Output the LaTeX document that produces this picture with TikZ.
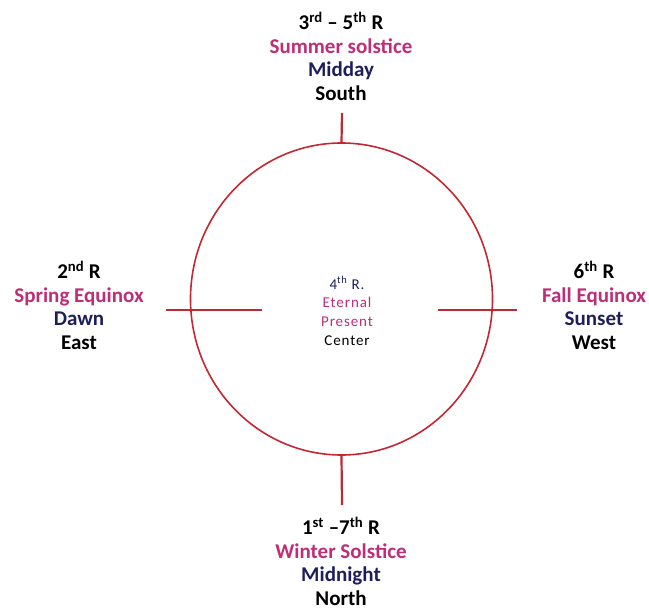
\documentclass[tikz,border=0pt]{standalone}
\usepackage{fontspec}
\setmainfont{Carlito}
\usetikzlibrary{shapes.geometric}
\definecolor{ringred}{RGB}{195,40,50}
\definecolor{seasonpink}{RGB}{190,45,120}
\definecolor{timenavy}{RGB}{30,30,90}

\begin{document}
\begin{tikzpicture}[x=1pt,y=-1pt,
  quarter/.style={align=center,font=\fontsize{21}{23.5}\selectfont\bfseries,inner sep=0pt},
  core/.style={align=center,font=\fontsize{15}{18.7}\selectfont\addfontfeature{LetterSpace=6},inner sep=0pt},
  tick/.style={draw=ringred,line width=2.2pt}]
  \useasboundingbox (0,0) rectangle (649,610);
  % the wheel
  \node[ellipse,draw=ringred,line width=1.6pt,minimum width=302,minimum height=312,inner sep=0pt] (wheel) at (341.5,299) {};
  \coordinate (wl1) at (166,310);
  \coordinate (wl2) at (262,310);
  \coordinate (wr1) at (438,310);
  \coordinate (wr2) at (517,310);
  \coordinate (wt) at (342,113);
  \coordinate (wb) at (342,505);
  \draw[tick] (wheel.north) -- (wt);
  \draw[tick] (wheel.south) -- (wb);
  \draw[tick] (wl1) -- (wl2);
  \draw[tick] (wr1) -- (wr2);
  % the four quarters
  \node[quarter] (south) at (341,56) {3\textsuperscript{rd} -- 5\textsuperscript{th} R\\
    \textcolor{seasonpink}{Summer solstice}\\ \textcolor{timenavy}{Midday}\\ South};
  \node[quarter] (east) at (79,305) {2\textsuperscript{nd} R\\
    \textcolor{seasonpink}{Spring Equinox}\\ \textcolor{timenavy}{Dawn}\\ East};
  \node[quarter] (west) at (594,305) {6\textsuperscript{th} R\\
    \textcolor{seasonpink}{Fall Equinox}\\ \textcolor{timenavy}{Sunset}\\ West};
  \node[quarter] (north) at (341,561) {1\textsuperscript{st} --7\textsuperscript{th} R\\
    \textcolor{seasonpink}{Winter Solstice}\\ \textcolor{timenavy}{Midnight}\\ North};
  % the center
  \node[core] (center) at (347,311) {\textcolor{timenavy}{4\textsuperscript{th} R.}\\
    \textcolor{seasonpink}{Eternal}\\ \textcolor{seasonpink}{Present}\\ Center};
\end{tikzpicture}
\end{document}
